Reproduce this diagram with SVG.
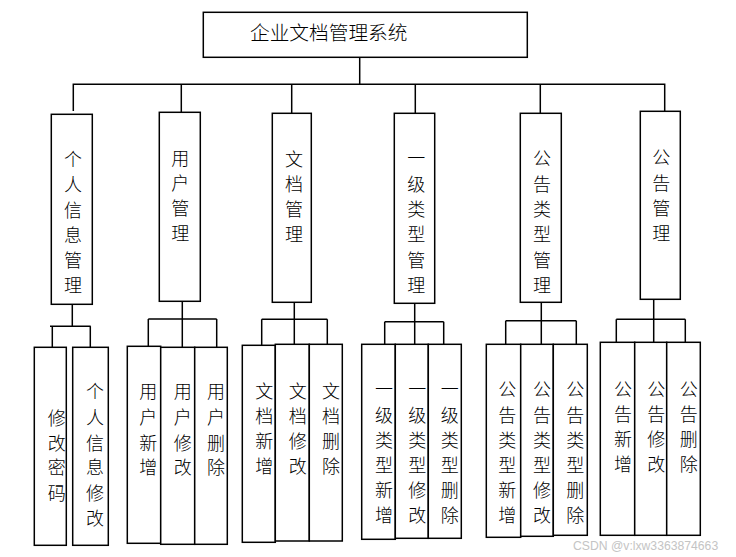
<svg xmlns="http://www.w3.org/2000/svg" width="736" height="557" viewBox="0 0 736 557">
<style>
.box{fill:#fff;stroke:#000;stroke-width:1.5}
.ln{fill:none;stroke:#000;stroke-width:1.5}
.t{font-family:"Noto Sans CJK SC","Liberation Sans",sans-serif;font-size:18px;font-weight:300;fill:#000;text-anchor:middle;dominant-baseline:central}
.title{font-family:"Noto Sans CJK SC","Liberation Sans",sans-serif;font-size:19.7px;font-weight:300;fill:#000}
.wm{font-family:"Liberation Sans",sans-serif;font-size:12.2px;fill:#c4c4c4}
</style>
<rect width="736" height="557" fill="#fff"/>
<g id="connectors">
<path class="ln" d="M359.7 57.3V84.3M73.3 111V84.3H664.7V111M181.3 84.3V112.3M291.7 84.3V113.3M415.3 84.3V113.3M540.3 84.3V113.3"/>
<path class="ln" d="M72.3 304.3V326.3M50 326.3H90.7M52.3 326.3V347.3M90.3 326.3V347.3"/>
<path class="ln" d="M182.3 301.3V319M148.3 319H216.7M148.3 319V346.3M182.3 319V347.3M216.7 319V347.3"/>
<path class="ln" d="M294.3 302.3V319.3M261.7 319.3H327.3M261.7 319.3V345.3M294.3 319.3V344.3M327.3 319.3V344.3"/>
<path class="ln" d="M414.7 303.3V321.7M384.7 321.7H443.7M384.7 321.7V344.3M414.7 321.7V344.3M443.7 321.7V344.3"/>
<path class="ln" d="M541.3 302.3V320.7M505.7 320.7H576.3M505.7 320.7V344.3M541.3 320.7V344.3M576.3 320.7V344.3"/>
<path class="ln" d="M653.7 299.3V319.3M616.3 319.3H685.3M616.3 319.3V342.3M653.7 319.3V342.3M685.3 319.3V342.3"/>
</g>
<g id="root">
<rect class="box" x="203.3" y="12.3" width="324" height="45"/>
<text class="title" x="250" y="39.5">企业文档管理系统</text>
</g>
<g id="n1">
<rect class="box" x="51.3" y="114.3" width="41" height="190"/>
<text class="t"><tspan x="73" y="158">个</tspan><tspan x="73" y="183.3">人</tspan><tspan x="73" y="208.6">信</tspan><tspan x="73" y="234">息</tspan><tspan x="73" y="259">管</tspan><tspan x="73" y="284">理</tspan></text>
</g>
<g id="n2">
<rect class="box" x="159.3" y="112.3" width="41" height="189"/>
<text class="t"><tspan x="180.3" y="157">用</tspan><tspan x="180.3" y="182">户</tspan><tspan x="180.3" y="207">管</tspan><tspan x="180.3" y="232">理</tspan></text>
</g>
<g id="n3">
<rect class="box" x="272.3" y="113.3" width="39" height="189"/>
<text class="t"><tspan x="294" y="158">文</tspan><tspan x="294" y="182.5">档</tspan><tspan x="294" y="208">管</tspan><tspan x="294" y="232.5">理</tspan></text>
</g>
<g id="n4">
<rect class="box" x="394.3" y="113.3" width="40.4" height="190"/>
<text class="t"><tspan x="416.3" y="157">一</tspan><tspan x="416.3" y="183">级</tspan><tspan x="416.3" y="208">类</tspan><tspan x="416.3" y="233">型</tspan><tspan x="416.3" y="258.5">管</tspan><tspan x="416.3" y="283.5">理</tspan></text>
</g>
<g id="n5">
<rect class="box" x="520.3" y="113.3" width="41" height="189"/>
<text class="t"><tspan x="542" y="157">公</tspan><tspan x="542" y="183">告</tspan><tspan x="542" y="208">类</tspan><tspan x="542" y="233">型</tspan><tspan x="542" y="258.5">管</tspan><tspan x="542" y="283.5">理</tspan></text>
</g>
<g id="n6">
<rect class="box" x="640.3" y="111.3" width="40" height="188"/>
<text class="t"><tspan x="661.3" y="156">公</tspan><tspan x="661.3" y="181.5">告</tspan><tspan x="661.3" y="207">管</tspan><tspan x="661.3" y="231.5">理</tspan></text>
</g>
<g id="n1a">
<rect class="box" x="34.3" y="347.3" width="32" height="198"/>
<text class="t"><tspan x="56.7" y="416.7">修</tspan><tspan x="56.7" y="441.7">改</tspan><tspan x="56.7" y="466.3">密</tspan><tspan x="56.7" y="491.7">码</tspan></text>
</g>
<g id="n1b">
<rect class="box" x="72.7" y="347.3" width="35.6" height="198"/>
<text class="t"><tspan x="95" y="390">个</tspan><tspan x="95" y="416">人</tspan><tspan x="95" y="441.7">信</tspan><tspan x="95" y="466.3">息</tspan><tspan x="95" y="492">修</tspan><tspan x="95" y="516.7">改</tspan></text>
</g>
<g id="n2a">
<rect class="box" x="127.3" y="346.3" width="33.4" height="197"/>
<text class="t"><tspan x="148.3" y="390">用</tspan><tspan x="148.3" y="416">户</tspan><tspan x="148.3" y="441.7">新</tspan><tspan x="148.3" y="466.3">增</tspan></text>
</g>
<g id="n2b">
<rect class="box" x="160.7" y="347.3" width="34" height="197"/>
<text class="t"><tspan x="182.7" y="390">用</tspan><tspan x="182.7" y="416">户</tspan><tspan x="182.7" y="441.7">修</tspan><tspan x="182.7" y="466.3">改</tspan></text>
</g>
<g id="n2c">
<rect class="box" x="194.7" y="347.3" width="32.6" height="197"/>
<text class="t"><tspan x="216" y="390">用</tspan><tspan x="216" y="416">户</tspan><tspan x="216" y="441.7">删</tspan><tspan x="216" y="466.3">除</tspan></text>
</g>
<g id="n3a">
<rect class="box" x="242.3" y="345.3" width="33" height="197"/>
<text class="t"><tspan x="264.3" y="390">文</tspan><tspan x="264.3" y="415">档</tspan><tspan x="264.3" y="440">新</tspan><tspan x="264.3" y="465">增</tspan></text>
</g>
<g id="n3b">
<rect class="box" x="275.3" y="344.3" width="34" height="196.7"/>
<text class="t"><tspan x="297.7" y="390">文</tspan><tspan x="297.7" y="415">档</tspan><tspan x="297.7" y="440">修</tspan><tspan x="297.7" y="465">改</tspan></text>
</g>
<g id="n3c">
<rect class="box" x="309.3" y="344.3" width="33" height="196.7"/>
<text class="t"><tspan x="331" y="390">文</tspan><tspan x="331" y="415">档</tspan><tspan x="331" y="440">删</tspan><tspan x="331" y="465">除</tspan></text>
</g>
<g id="n4a">
<rect class="box" x="361.7" y="344.3" width="33.6" height="195"/>
<text class="t"><tspan x="384" y="388.3">一</tspan><tspan x="384" y="414">级</tspan><tspan x="384" y="439.3">类</tspan><tspan x="384" y="463.5">型</tspan><tspan x="384" y="489.3">新</tspan><tspan x="384" y="514">增</tspan></text>
</g>
<g id="n4b">
<rect class="box" x="395.3" y="344.3" width="33" height="194"/>
<text class="t"><tspan x="417.3" y="388.3">一</tspan><tspan x="417.3" y="414">级</tspan><tspan x="417.3" y="439.3">类</tspan><tspan x="417.3" y="463.5">型</tspan><tspan x="417.3" y="489.3">修</tspan><tspan x="417.3" y="514">改</tspan></text>
</g>
<g id="n4c">
<rect class="box" x="428.3" y="344.3" width="33" height="194"/>
<text class="t"><tspan x="449.7" y="388.3">一</tspan><tspan x="449.7" y="414">级</tspan><tspan x="449.7" y="439.3">类</tspan><tspan x="449.7" y="463.5">型</tspan><tspan x="449.7" y="489.3">删</tspan><tspan x="449.7" y="514">除</tspan></text>
</g>
<g id="n5a">
<rect class="box" x="486.3" y="344.3" width="34.4" height="193"/>
<text class="t"><tspan x="507.3" y="388.3">公</tspan><tspan x="507.3" y="414">告</tspan><tspan x="507.3" y="439.3">类</tspan><tspan x="507.3" y="463.5">型</tspan><tspan x="507.3" y="489.3">新</tspan><tspan x="507.3" y="514">增</tspan></text>
</g>
<g id="n5b">
<rect class="box" x="520.7" y="344.3" width="32.6" height="192"/>
<text class="t"><tspan x="542" y="388.3">公</tspan><tspan x="542" y="414">告</tspan><tspan x="542" y="439.3">类</tspan><tspan x="542" y="463.5">型</tspan><tspan x="542" y="489.3">修</tspan><tspan x="542" y="514">改</tspan></text>
</g>
<g id="n5c">
<rect class="box" x="553.3" y="344.3" width="34" height="191"/>
<text class="t"><tspan x="575.3" y="388.3">公</tspan><tspan x="575.3" y="414">告</tspan><tspan x="575.3" y="439.3">类</tspan><tspan x="575.3" y="463.5">型</tspan><tspan x="575.3" y="489.3">删</tspan><tspan x="575.3" y="514">除</tspan></text>
</g>
<g id="n6a">
<rect class="box" x="600.3" y="342.3" width="34.4" height="193"/>
<text class="t"><tspan x="623" y="388.3">公</tspan><tspan x="623" y="413.3">告</tspan><tspan x="623" y="438.3">新</tspan><tspan x="623" y="462.7">增</tspan></text>
</g>
<g id="n6b">
<rect class="box" x="634.7" y="342.3" width="32" height="193"/>
<text class="t"><tspan x="656.3" y="388.3">公</tspan><tspan x="656.3" y="413.3">告</tspan><tspan x="656.3" y="438.3">修</tspan><tspan x="656.3" y="462.7">改</tspan></text>
</g>
<g id="n6c">
<rect class="box" x="666.7" y="342.3" width="33.6" height="193"/>
<text class="t"><tspan x="688.7" y="388.3">公</tspan><tspan x="688.7" y="413.3">告</tspan><tspan x="688.7" y="438.3">删</tspan><tspan x="688.7" y="462.7">除</tspan></text>
</g>
<text class="wm" x="573" y="549.5">CSDN @v:lxw3363874663</text>
</svg>
